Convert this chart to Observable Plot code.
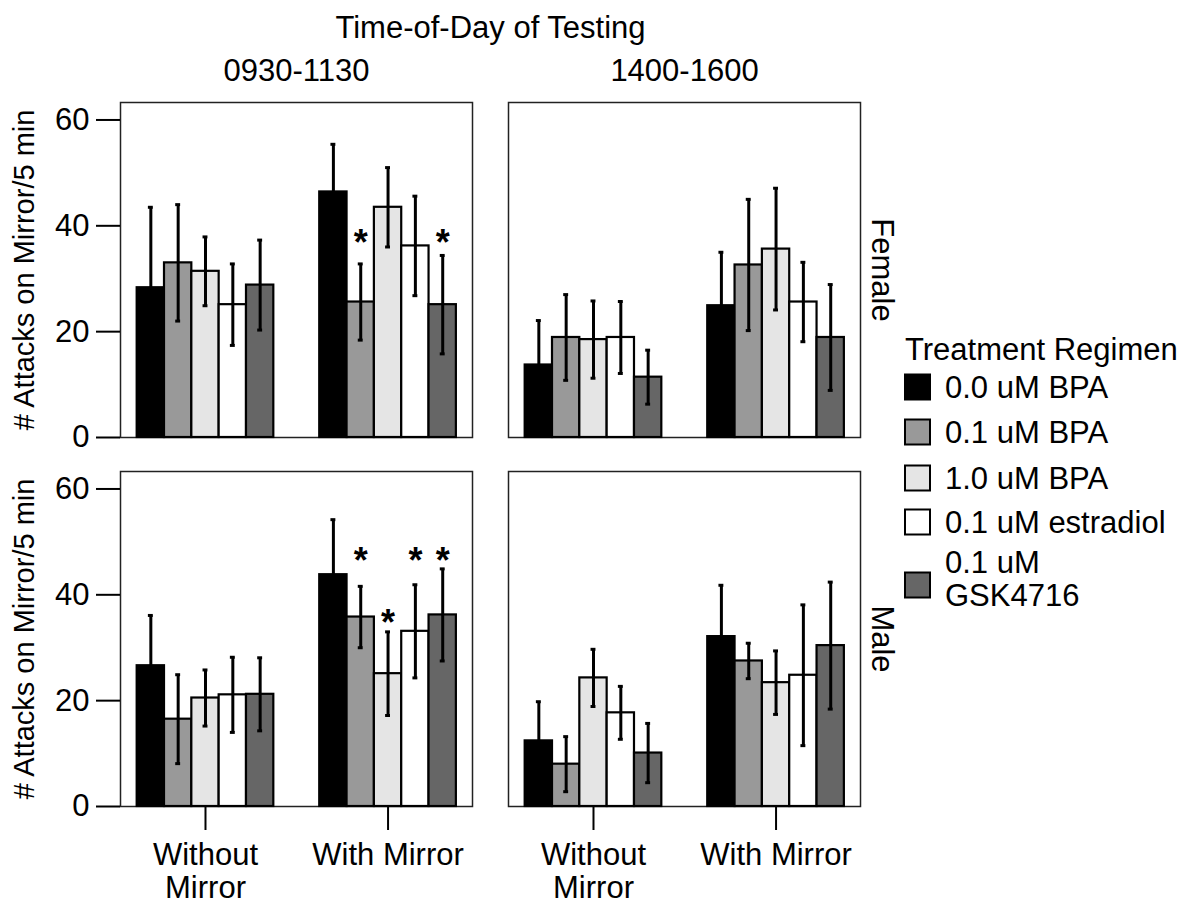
<!DOCTYPE html>
<html>
<head>
<meta charset="utf-8">
<script src="https://cdn.jsdelivr.net/npm/d3@7"></script>
<script src="https://cdn.jsdelivr.net/npm/@observablehq/plot@0.6"></script>
<style>
  html, body { margin: 0; padding: 0; background: #fff; }
  #wrap { position: relative; width: 1187px; height: 907px; font-family: "Liberation Sans", Arial, Helvetica, sans-serif; }
  #wrap > svg { position: absolute; left: 0; top: 0; }
</style>
</head>
<body>
<div id="wrap"></div>
<script>
// ---------- data ----------
const times = ["0930-1130", "1400-1600"];
const sexes = ["Female", "Male"];
const conditions = ["Without Mirror", "With Mirror"];
const conditionTickLabels = ["Without\nMirror", "With Mirror"];
const treatments = ["0.0 uM BPA", "0.1 uM BPA", "1.0 uM BPA", "0.1 uM estradiol", "0.1 uM GSK4716"];
const legendLabels = ["0.0 uM BPA", "0.1 uM BPA", "1.0 uM BPA", "0.1 uM estradiol", "0.1 uM\nGSK4716"];
const treatmentColors = ["#000000", "#999999", "#e5e5e5", "#ffffff", "#666666"];
const yTicks = [0, 20, 40, 60];
const yLabel = "# Attacks on Mirror/5 min";
const facetTitle = "Time-of-Day of Testing";
const legendTitle = "Treatment Regimen";

// means: first 5 = Without Mirror, last 5 = With Mirror (treatment order)
const femaleAmMean = [28.3, 33.0, 31.4, 25.1, 28.8,   46.4, 25.6, 43.5, 36.2, 25.1];
const femaleAmErr  = [15.2, 11.0, 6.5, 7.7, 8.5,      9.0, 7.2, 7.5, 9.4, 9.3];
const femalePmMean = [13.7, 18.9, 18.5, 18.9, 11.4,   24.9, 32.6, 35.6, 25.6, 18.9];
const femalePmErr  = [8.4, 8.1, 7.3, 6.8, 5.1,        10.1, 12.4, 11.5, 7.5, 10.0];
const maleAmMean   = [26.6, 16.5, 20.5, 21.1, 21.2,   43.8, 35.8, 25.1, 33.1, 36.2];
const maleAmErr    = [9.5, 8.4, 5.3, 7.1, 6.9,        10.4, 5.8, 7.9, 8.8, 8.7];
const malePmMean   = [12.4, 8.0, 24.3, 17.7, 10.1,    32.1, 27.5, 23.4, 24.8, 30.4];
const malePmErr    = [7.4, 5.2, 5.4, 5.0, 5.6,        9.7, 3.35, 6.0, 13.3, 12.0];

// significance markers (value = visual height of the asterisk)
const stars = [
  {sex: "Female", time: "0930-1130", condition: "With Mirror", treatment: "0.1 uM BPA", value: 38.2},
  {sex: "Female", time: "0930-1130", condition: "With Mirror", treatment: "0.1 uM GSK4716", value: 38.2},
  {sex: "Male", time: "0930-1130", condition: "With Mirror", treatment: "0.1 uM BPA", value: 47.8},
  {sex: "Male", time: "0930-1130", condition: "With Mirror", treatment: "1.0 uM BPA", value: 36.1},
  {sex: "Male", time: "0930-1130", condition: "With Mirror", treatment: "0.1 uM estradiol", value: 47.8},
  {sex: "Male", time: "0930-1130", condition: "With Mirror", treatment: "0.1 uM GSK4716", value: 47.8}
];

// ---------- build table ----------
const panels = [
  {sex: "Female", time: "0930-1130", mean: femaleAmMean, err: femaleAmErr},
  {sex: "Female", time: "1400-1600", mean: femalePmMean, err: femalePmErr},
  {sex: "Male", time: "0930-1130", mean: maleAmMean, err: maleAmErr},
  {sex: "Male", time: "1400-1600", mean: malePmMean, err: malePmErr}
];
const GROUP_STEP = 6.68;   // layout: distance between group starts, in bar widths
const CAP = 0.09;
const FS = 31;
const xStart = (condition, treatment) =>
  conditions.indexOf(condition) * GROUP_STEP + treatments.indexOf(treatment);
const rows = [];
for (const p of panels) {
  conditions.forEach((c, g) => {
    treatments.forEach((t, i) => {
      const k = g * treatments.length + i;
      rows.push({sex: p.sex, time: p.time, condition: c, treatment: t,
                 mean: p.mean[k], lo: p.mean[k] - p.err[k], hi: p.mean[k] + p.err[k]});
    });
  });
}
const xTicks = conditions.map(c => xStart(c, treatments[0]) + treatments.length / 2);

const chart = Plot.plot({
  width: 1187,
  height: 907,
  marginTop: 102,
  marginBottom: 100,
  marginLeft: 120,
  marginRight: 326,
  style: {fontFamily: "'Liberation Sans', Arial, Helvetica, sans-serif", fontSize: FS + "px", background: "transparent", color: "black"},
  fx: {domain: times, paddingInner: 0.092, paddingOuter: 0, axis: null},
  fy: {domain: sexes, paddingInner: 0.092, paddingOuter: 0, axis: null},
  x: {domain: [-0.61, 12.27], axis: null},
  y: {domain: [0, 63.3], axis: null},
  color: {domain: treatments, range: treatmentColors},
  marks: [
    Plot.frame({stroke: "#222", strokeWidth: 1.5}),
    Plot.rectY(rows, {
      fx: "time", fy: "sex",
      x1: d => xStart(d.condition, d.treatment),
      x2: d => xStart(d.condition, d.treatment) + 1,
      y1: 0, y2: "mean",
      fill: "treatment", stroke: "black", strokeWidth: 2.2
    }),
    Plot.ruleX(rows, {
      fx: "time", fy: "sex",
      x: d => xStart(d.condition, d.treatment) + 0.5,
      y1: "lo", y2: "hi", stroke: "black", strokeWidth: 3
    }),
    Plot.ruleY(rows, {
      fx: "time", fy: "sex", y: "hi",
      x1: d => xStart(d.condition, d.treatment) + 0.5 - CAP,
      x2: d => xStart(d.condition, d.treatment) + 0.5 + CAP,
      stroke: "black", strokeWidth: 3
    }),
    Plot.ruleY(rows, {
      fx: "time", fy: "sex", y: "lo",
      x1: d => xStart(d.condition, d.treatment) + 0.5 - CAP,
      x2: d => xStart(d.condition, d.treatment) + 0.5 + CAP,
      stroke: "black", strokeWidth: 3
    }),
    Plot.text(stars, {
      fx: "time", fy: "sex",
      x: d => xStart(d.condition, d.treatment) + 0.5,
      y: "value", text: () => "*", fontSize: 36, fontWeight: "bold", dy: 8, fill: "black"
    }),
    Plot.axisY({ticks: yTicks, tickSize: 24, tickPadding: 7, strokeWidth: 2, fontSize: FS,
                label: null, facetAnchor: "left", fill: "black"}),
    Plot.axisX({ticks: xTicks, tickFormat: d => conditionTickLabels[xTicks.indexOf(d)],
                tickSize: 24, tickPadding: 12, strokeWidth: 2, fontSize: FS, lineHeight: 1.04,
                label: null, facetAnchor: "bottom", fill: "black"}),
    Plot.text(times.map(t => ({time: t, sex: sexes[0]})), {
      fx: "time", fy: "sex", frameAnchor: "top", text: "time",
      dy: -22, lineAnchor: "bottom", fontSize: FS, fill: "black"
    }),
    Plot.text(sexes.map(s => ({sex: s, time: times[1]})), {
      fx: "time", fy: "sex", frameAnchor: "right", text: "sex", textAnchor: "middle",
      rotate: 90, dx: 21, fontSize: FS, fill: "black"
    }),
    Plot.text(sexes.map(s => ({sex: s, time: times[0]})), {
      fx: "time", fy: "sex", frameAnchor: "left", text: () => yLabel, textAnchor: "middle",
      rotate: -90, dx: -96, fontSize: 29, fill: "black"
    })
  ]
});
document.getElementById("wrap").appendChild(chart);

// ---------- overlay: title + legend ----------
const ov = d3.select("#wrap").append("svg")
  .attr("width", 1187).attr("height", 907)
  .style("pointer-events", "none")
  .style("font-family", "'Liberation Sans', Arial, Helvetica, sans-serif")
  .style("font-size", FS + "px");
ov.append("text").attr("x", 490.5).attr("y", 38).attr("text-anchor", "middle").text(facetTitle);
ov.append("text").attr("x", 905).attr("y", 360).text(legendTitle);
const centers = [387, 432, 478, 522, 585];
treatments.forEach((t, i) => {
  const cy = centers[i];
  ov.append("rect").attr("x", 905).attr("y", cy - 12.5).attr("width", 25).attr("height", 25)
    .attr("fill", treatmentColors[i]).attr("stroke", "black").attr("stroke-width", 2);
  const lines = legendLabels[i].split("\n");
  const txt = ov.append("text").attr("x", 945);
  if (lines.length === 1) {
    txt.attr("y", cy + 11).text(lines[0]);
  } else {
    lines.forEach((l, j) => txt.append("tspan").attr("x", 945).attr("y", cy - 12 + j * 33).text(l));
  }
});
</script>
</body>
</html>
